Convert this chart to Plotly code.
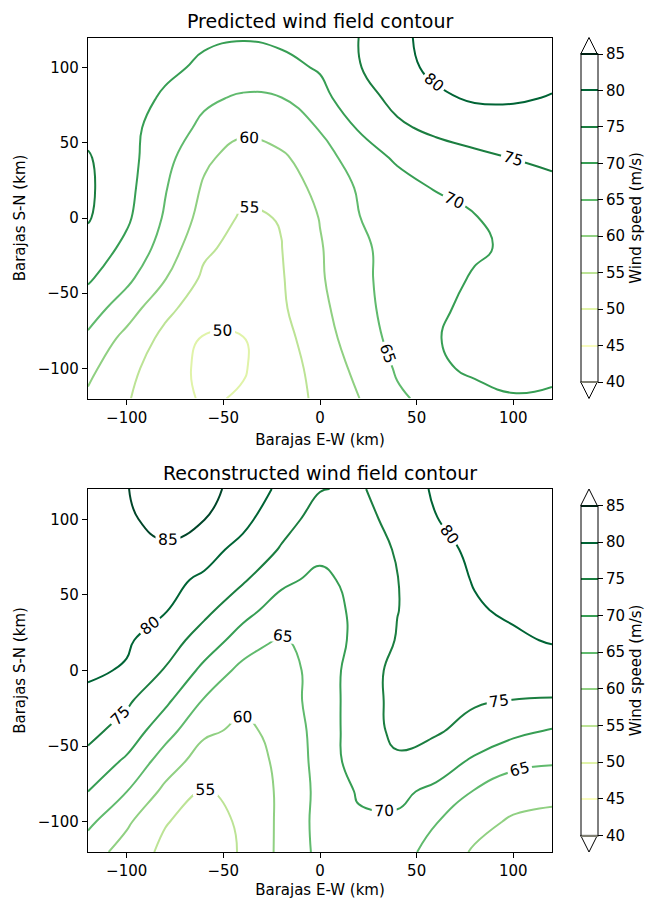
import plotly.graph_objects as go

# ---------------- data (km grid, wind speed m/s) ----------------
x_km = [-120, -100, -80, -60, -40, -20, 0, 20, 40, 60, 80, 100, 120]
y_km = [-120, -100, -80, -60, -40, -20, 0, 20, 40, 60, 80, 100, 120]

# rows: y = -120 ... 120 ; columns: x = -120 ... 120
predicted_speed = [
    [59.2, 55.3, 52.6, 49.3, 50.5, 53.1, 55.8, 59.9, 64.3, 66.4, 68.5, 69.8, 69.5],
    [61.2, 56.4, 52.4, 48.8, 49.6, 52.8, 56.6, 61.3, 65.5, 69.2, 70.8, 70.9, 70.8],
    [64.1, 58.5, 53.7, 49.6, 49.9, 53.3, 57.8, 62.6, 66.5, 69.9, 70.6, 70.9, 71.0],
    [67.4, 62.4, 56.2, 52.4, 50.8, 54.3, 58.7, 63.5, 66.8, 69.5, 70.7, 71.0, 71.0],
    [70.7, 66.2, 60.2, 54.1, 52.0, 54.6, 59.4, 64.1, 66.5, 68.4, 70.4, 71.0, 71.2],
    [73.2, 68.8, 62.9, 55.9, 53.2, 54.9, 59.6, 64.3, 66.3, 67.9, 69.4, 70.7, 71.5],
    [75.4, 70.8, 64.4, 58.2, 54.3, 55.2, 60.2, 64.9, 66.6, 68.2, 69.8, 71.2, 72.3],
    [75.8, 71.5, 65.3, 59.4, 56.3, 57.6, 61.2, 65.5, 68.1, 70.3, 71.8, 73.0, 74.0],
    [75.4, 71.7, 66.5, 60.9, 57.9, 59.2, 62.8, 67.5, 70.7, 72.6, 74.0, 75.1, 75.8],
    [73.8, 71.4, 67.9, 63.8, 61.1, 62.3, 65.3, 70.4, 74.2, 76.1, 77.2, 78.0, 77.8],
    [72.8, 71.3, 69.6, 66.0, 64.3, 64.95, 68.6, 73.0, 76.4, 79.2, 80.6, 80.5, 79.8],
    [72.3, 71.4, 70.6, 69.5, 68.5, 68.8, 70.4, 74.7, 78.6, 81.0, 81.8, 81.8, 81.2],
    [72.0, 71.4, 70.8, 70.4, 70.2, 70.8, 72.8, 75.0, 79.2, 81.2, 82.6, 82.7, 82.2],
]

reconstructed_speed = [
    [62.3, 58.0, 53.8, 51.5, 55.6, 61.1, 66.2, 68.6, 67.0, 63.1, 59.4, 57.5, 56.5],
    [66.1, 60.8, 55.3, 52.8, 55.8, 61.0, 66.5, 69.3, 69.3, 65.2, 61.7, 59.3, 58.3],
    [70.0, 65.05, 58.8, 54.6, 56.3, 60.9, 66.3, 70.5, 71.0, 68.9, 64.7, 62.3, 61.7],
    [73.5, 69.2, 62.6, 57.6, 57.7, 61.0, 66.7, 72.5, 74.4, 72.5, 69.2, 66.3, 65.5],
    [76.4, 73.0, 66.9, 60.9, 59.0, 61.4, 66.9, 72.7, 76.0, 75.5, 73.3, 71.2, 69.6],
    [78.9, 75.8, 71.0, 64.6, 61.0, 62.9, 66.8, 72.8, 76.2, 75.8, 75.5, 74.9, 74.7],
    [80.7, 79.6, 74.6, 68.8, 63.5, 62.9, 66.9, 72.6, 76.3, 76.5, 76.9, 77.1, 77.4],
    [81.8, 80.6, 77.5, 72.7, 67.9, 64.3, 67.5, 71.1, 75.3, 76.5, 77.8, 79.2, 80.4],
    [82.6, 81.4, 80.3, 76.3, 71.7, 67.8, 68.2, 70.9, 74.9, 77.2, 79.5, 80.8, 81.3],
    [83.2, 82.1, 81.2, 79.3, 75.6, 71.1, 68.8, 71.7, 74.9, 77.8, 80.3, 81.2, 81.5],
    [83.6, 84.3, 84.6, 81.7, 78.6, 74.6, 71.4, 72.5, 75.4, 78.8, 80.8, 81.5, 81.8],
    [83.9, 84.6, 85.9, 85.1, 81.3, 76.8, 73.2, 73.6, 76.3, 79.9, 81.3, 82.0, 82.3],
    [84.1, 84.9, 86.5, 86.5, 83.3, 78.9, 75.2, 74.4, 77.5, 80.6, 82.0, 82.8, 83.0],
]

level_start, level_end, level_step = 40, 85, 5
colorbar_ticks = [40, 45, 50, 55, 60, 65, 70, 75, 80, 85]
axis_ticks = [-100, -50, 0, 50, 100]
panel_titles = ["Predicted wind field contour", "Reconstructed wind field contour"]
x_title = "Barajas E-W (km)"
y_title = "Barajas S-N (km)"
cbar_title = "Wind speed (m/s)"

ylgn = [
    [0.000, "#ffffe5"], [0.125, "#f7fcb9"], [0.250, "#d9f0a3"],
    [0.375, "#addd8e"], [0.500, "#78c679"], [0.625, "#41ab5d"],
    [0.750, "#238443"], [0.875, "#006837"], [1.000, "#004529"],
]

# ---------------- layout geometry (pixels) ----------------
W, H = 655, 899
ML, MR, MT, MB = 88, 103, 37, 47
PW, PH = W - ML - MR, H - MT - MB
FONT = "DejaVu Sans"


def px_x(px):
    return (px - ML) / PW


def px_y(py):
    return (H - MB - py) / PH


panels = [
    dict(z=predicted_speed, top=37.5, bottom=398.5),
    dict(z=reconstructed_speed, top=489.0, bottom=852.0),
]
cb_left, cb_right = 580.7, 597.3
cb_inset = 16.6

fig = go.Figure()
shapes = []
annotations = []
for i, p in enumerate(panels):
    sfx = "" if i == 0 else "2"
    rect_top = p["top"] + cb_inset
    rect_bot = p["bottom"] - cb_inset
    fig.add_trace(go.Contour(
        x=x_km, y=y_km, z=p["z"],
        xaxis="x" + sfx, yaxis="y" + sfx,
        colorscale=ylgn, zmin=level_start, zmax=level_end, zauto=False,
        autocontour=False,
        contours=dict(start=level_start, end=level_end, size=level_step,
                      coloring="lines", showlabels=True,
                      labelfont=dict(family=FONT, size=15.5, color="black")),
        line=dict(width=2, smoothing=1.3),
        hoverinfo="skip",
        colorbar=dict(
            x=px_x(cb_left), xanchor="left", xpad=0,
            y=px_y((rect_top + rect_bot) / 2), yanchor="middle", ypad=0,
            lenmode="pixels", len=rect_bot - rect_top,
            thickness=cb_right - cb_left,
            outlinewidth=1, outlinecolor="black",
            tickmode="array", tickvals=colorbar_ticks,
            ticks="outside", ticklen=5, tickcolor="black",
            tickfont=dict(family=FONT, size=15, color="black"),
            title=dict(text=cbar_title, side="right",
                       font=dict(family=FONT, size=15, color="black")),
        ),
    ))
    # extension triangles of the colour bar
    cx = (cb_left + cb_right) / 2
    for base, tip in ((rect_top, p["top"]), (rect_bot, p["bottom"])):
        shapes.append(dict(
            type="path", xref="paper", yref="paper",
            path=f"M {px_x(cb_left)} {px_y(base)} L {px_x(cb_right)} {px_y(base)} "
                 f"L {px_x(cx)} {px_y(tip)} Z",
            fillcolor="white", line=dict(color="black", width=1),
        ))
    annotations.append(dict(
        text=panel_titles[i], xref="paper", yref="paper",
        x=0.5, y=px_y(p["top"] - 16.5), xanchor="center", yanchor="middle",
        showarrow=False, font=dict(family=FONT, size=19, color="black"),
    ))

axis_common = dict(
    showline=True, mirror=True, linecolor="black", linewidth=1.2,
    ticks="outside", ticklen=5, tickwidth=1.2, tickcolor="black",
    showgrid=False, zeroline=False,
    tickfont=dict(family=FONT, size=15, color="black"),
    range=[-120, 120], tickmode="array", tickvals=axis_ticks,
)

layout = dict(
    width=W, height=H,
    margin=dict(l=ML, r=MR, t=MT, b=MB, autoexpand=False),
    paper_bgcolor="white", plot_bgcolor="white",
    showlegend=False, shapes=shapes, annotations=annotations,
    font=dict(family=FONT, color="black"),
)
for i, p in enumerate(panels):
    sfx = "" if i == 0 else "2"
    dom_y = [px_y(p["bottom"]), px_y(p["top"])]
    layout["xaxis" + sfx] = dict(axis_common, domain=[0, 1], anchor="y" + sfx,
                                 title=dict(text=x_title, standoff=8,
                                            font=dict(family=FONT, size=15)))
    layout["yaxis" + sfx] = dict(axis_common, domain=dom_y, anchor="x" + sfx,
                                 title=dict(text=y_title, standoff=8,
                                            font=dict(family=FONT, size=15)))

fig.update_layout(**layout)
fig.write_html("out.html")
